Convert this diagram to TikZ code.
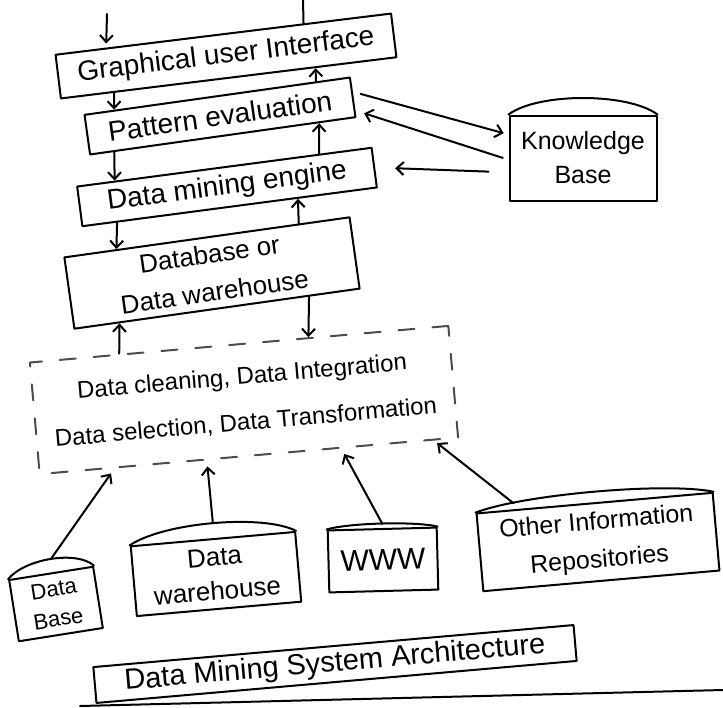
\documentclass[tikz,border=0pt]{standalone}
\usepackage{fontspec}
\setmainfont{Liberation Sans}
\usetikzlibrary{calc,arrows.meta}
\newcommand\drumtop[2]{%
  \draw (#1.north west) .. controls ($(#1.north west)!0.2!(#1.north east)+(0,-#2)$) and ($(#1.north west)!0.8!(#1.north east)+(0,-#2)$) .. (#1.north east);
  \coordinate (#1-top) at ($(#1.north)+(0,-0.75*#2)$);}
\begin{document}
\begin{tikzpicture}[x=1pt,y=-1pt,
  line width=2pt, line join=round, line cap=round,
  box/.style={draw, rectangle, inner sep=2pt, align=center},
  arr/.style={-{Straight Barb[length=7pt,width=13pt]}},
  dbox/.style={draw=black!70, dash pattern=on 16pt off 18pt, rectangle, align=center, inner sep=2pt},
]
\useasboundingbox (0,0) rectangle (723,707);

% main stack
\node[box, minimum width=338pt, minimum height=44pt, rotate=7, font=\fontsize{28}{32}\selectfont] (gui) at (226,56) {Graphical user Interface};
\node[box, minimum width=268pt, minimum height=40pt, rotate=8, font=\fontsize{28}{32}\selectfont] (pat) at (220,116) {Pattern evaluation};
\node[box, minimum width=297pt, minimum height=40pt, rotate=7.5, font=\fontsize{28}{32}\selectfont] (dme) at (227,187) {Data mining engine};
\node[box, minimum width=288pt, minimum height=72pt, rotate=8, font=\fontsize{26}{38}\selectfont] (dbw) at (212,273) {Database or\\Data warehouse};
\node[dbox, minimum width=420pt, minimum height=112pt, rotate=5, font=\fontsize{24}{46}\selectfont] (clean) at (244,400) {Data cleaning, Data Integration\\Data selection, Data Transformation};

% knowledge base
\node[box, minimum width=147pt, minimum height=85pt, font=\fontsize{25}{34}\selectfont] (kb) at (583,158) {Knowledge\\Base};
\drumtop{kb}{22}

% sources
\node[box, minimum width=85pt, minimum height=62pt, rotate=9, font=\fontsize{22}{30}\selectfont] (s1) at (56,604) {Data\\Base};
\drumtop{s1}{18}
\node[box, minimum width=165pt, minimum height=70pt, rotate=5, font=\fontsize{26}{34}\selectfont] (s2) at (216,574) {Data\\warehouse};
\drumtop{s2}{20}
\node[box, minimum width=109pt, minimum height=62pt, rotate=1.5, font=\fontsize{30}{34}\selectfont] (s3) at (383,560) {WWW};
\drumtop{s3}{6}
\node[box, minimum width=237pt, minimum height=78pt, rotate=5, font=\fontsize{25}{38}\selectfont] (s4) at (598,542) {Other Information\\Repositories};
\drumtop{s4}{14}

% title
\node[box, minimum width=482pt, minimum height=36pt, rotate=5, font=\fontsize{29}{32}\selectfont] (title) at (335,664) {Data Mining System Architecture};
\coordinate (ul1) at (80,706);
\coordinate (ul2) at (723,690);
\draw (ul1) -- (ul2);

% top inputs
\coordinate (topl) at (107,14);
\coordinate (topr) at (303,0);
\draw[arr, shorten >=4pt] (topl) -- ($(gui.north west)!0.153!(gui.north east)$);
\draw (topr) -- ($(gui.north west)!0.738!(gui.north east)$);

% stack arrows
\draw[arr] ($(gui.south west)!0.16!(gui.south east)$) -- ($(pat.north west)!0.115!(pat.north east)$);
\draw[arr] ($(pat.north west)!0.87!(pat.north east)$) -- ($(gui.south west)!0.757!(gui.south east)$);
\draw[arr] ($(pat.south west)!0.094!(pat.south east)$) -- ($(dme.north west)!0.13!(dme.north east)$);
\draw[arr] ($(dme.north west)!0.82!(dme.north east)$) -- ($(pat.south west)!0.86!(pat.south east)$);
\draw[arr] ($(dme.south west)!0.12!(dme.south east)$) -- ($(dbw.north west)!0.185!(dbw.north east)$);
\draw[arr] ($(dbw.north west)!0.82!(dbw.north east)$) -- ($(dme.south west)!0.73!(dme.south east)$);
\draw[arr] ($(dbw.south west)!0.82!(dbw.south east)$) -- ($(clean.north west)!0.665!(clean.north east)$);
\draw[arr] ($(clean.north west)!0.215!(clean.north east)$) -- ($(dbw.south west)!0.16!(dbw.south east)$);

% knowledge base arrows
\draw[arr, shorten >=5pt, shorten <=8pt] ($(pat.north east)!0.37!(pat.south east)$) -- ($(kb.north west)!0.23!(kb.south west)$);
\draw[arr, shorten <=6pt, shorten >=9pt] ($(kb.north west)!0.52!(kb.south west)$) -- ($(pat.north east)!0.82!(pat.south east)$);
\draw[arr, shorten <=20pt, shorten >=20pt] ($(kb.north west)!0.665!(kb.south west)$) -- (dme.east);

% source arrows
\draw[arr, shorten >=6pt] (s1-top) -- ($(clean.south west)!0.18!(clean.south east)$);
\draw[arr, shorten >=6pt] (s2-top) -- ($(clean.south west)!0.40!(clean.south east)$);
\draw[arr, shorten >=6pt] (s3-top) -- ($(clean.south west)!0.72!(clean.south east)$);
\draw[arr, shorten >=4pt] ($(s4.north west)!0.16!(s4.north east)+(0,-6)$) -- ($(clean.south west)!0.94!(clean.south east)$);
\end{tikzpicture}
\end{document}
